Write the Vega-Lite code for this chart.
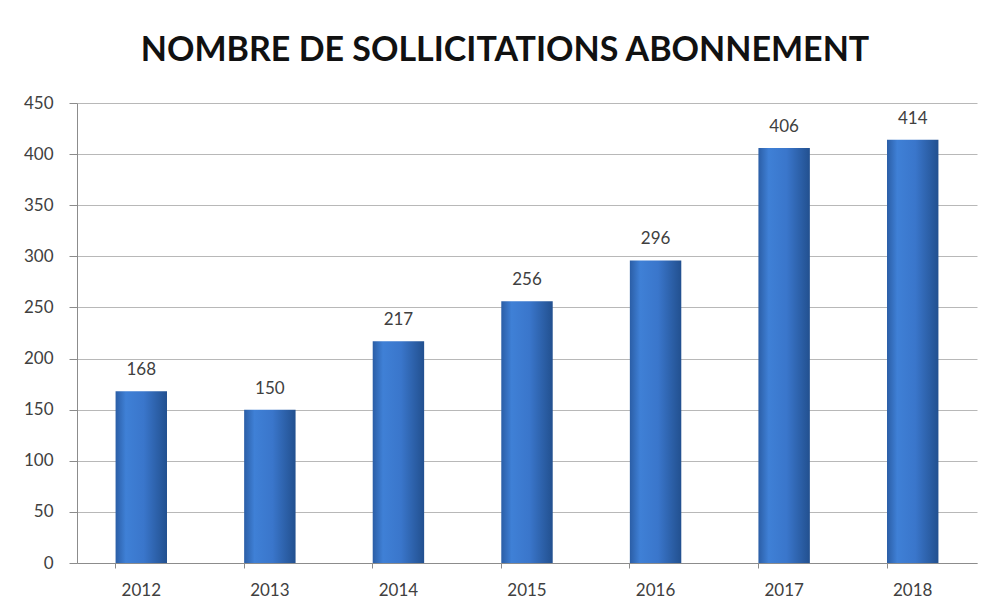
{
  "$schema": "https://vega.github.io/schema/vega-lite/v6.json",
  "autosize": {"type": "none"},
  "padding": {"left": 77, "top": 103, "right": 10, "bottom": 45},
  "width": 900,
  "height": 460,
  "background": "white",
  "title": {
    "text": "NOMBRE DE SOLLICITATIONS ABONNEMENT",
    "font": "Lato",
    "fontSize": 34,
    "fontWeight": "bold",
    "color": "#111111",
    "anchor": "middle",
    "dx": -22,
    "offset": 26
  },
  "data": {
    "values": [
      {"year": "2012", "value": 168},
      {"year": "2013", "value": 150},
      {"year": "2014", "value": 217},
      {"year": "2015", "value": 256},
      {"year": "2016", "value": 296},
      {"year": "2017", "value": 406},
      {"year": "2018", "value": 414}
    ]
  },
  "encoding": {
    "x": {
      "field": "year",
      "type": "ordinal",
      "scale": {"paddingInner": 0.6, "paddingOuter": 0.3},
      "axis": {
        "title": null,
        "labelAngle": 0,
        "labelFont": "Lato",
        "labelFontSize": 17,
        "labelColor": "#404040",
        "labelPadding": 14,
        "domainColor": "#8c8c8c",
        "tickColor": "#8c8c8c",
        "tickSize": 5,
        "bandPosition": 0
      }
    },
    "y": {
      "field": "value",
      "type": "quantitative",
      "scale": {"domain": [0, 450]},
      "axis": {
        "title": null,
        "values": [0, 50, 100, 150, 200, 250, 300, 350, 400, 450],
        "labelFont": "Lato",
        "labelFontSize": 17,
        "labelColor": "#404040",
        "labelPadding": 16,
        "domainColor": "#8c8c8c",
        "tickColor": "#8c8c8c",
        "tickSize": 8,
        "gridColor": "#b8b8b8",
        "gridWidth": 1
      }
    }
  },
  "layer": [
    {
      "mark": {
        "type": "bar",
        "color": {
          "gradient": "linear",
          "x1": 0, "x2": 1, "y1": 0, "y2": 0,
          "stops": [
            {"offset": 0, "color": "#2b5ea6"},
            {"offset": 0.2, "color": "#3f80d6"},
            {"offset": 0.55, "color": "#3a76cb"},
            {"offset": 1, "color": "#22508f"}
          ]
        }
      }
    },
    {
      "mark": {
        "type": "text",
        "font": "Lato",
        "fontSize": 17,
        "color": "#404040",
        "baseline": "bottom",
        "dy": -12
      },
      "encoding": {"text": {"field": "value", "type": "quantitative"}}
    }
  ],
  "config": {"view": {"stroke": null}}
}
